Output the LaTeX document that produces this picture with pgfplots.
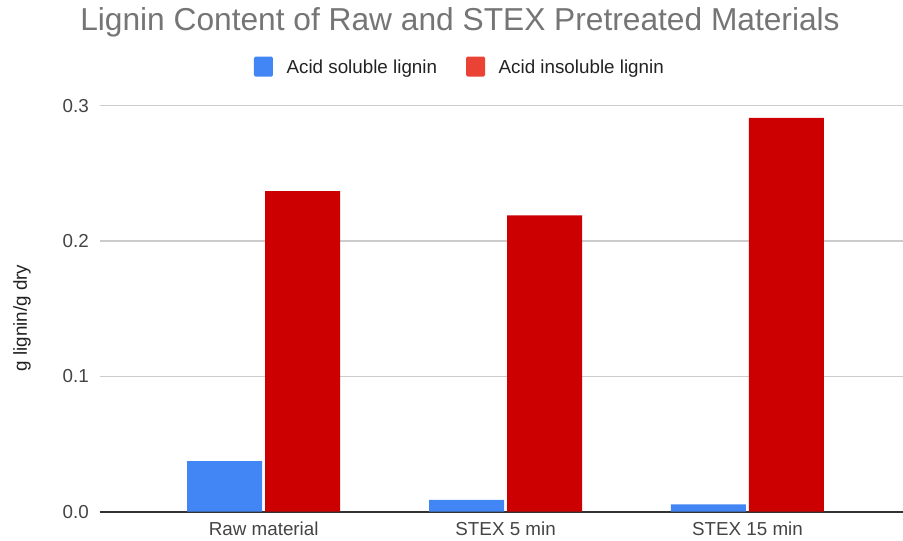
\documentclass[border=0pt]{standalone}
\usepackage{pgfplots}
\pgfplotsset{compat=1.18}
\usepackage{fontspec}
\setmainfont{Liberation Sans}

\definecolor{solblue}{HTML}{4285F4}
\definecolor{insolred}{HTML}{CC0000}
\definecolor{insolkey}{HTML}{EA4335}
\definecolor{titlegray}{HTML}{757575}
\definecolor{ticktext}{HTML}{444444}
\definecolor{labeltext}{HTML}{222222}
\definecolor{gridgray}{HTML}{CCCCCC}
\definecolor{baseline}{HTML}{333333}

\begin{document}
\begin{tikzpicture}
\useasboundingbox (0,0) rectangle (903bp,541bp);

\node[anchor=base, text=titlegray, font=\fontsize{31.7bp}{36bp}\selectfont, inner sep=0pt]
  at (460bp,510.3bp) {Lignin Content of Raw and STEX Pretreated Materials};

\begin{axis}[
  at={(99.5bp,29.3bp)}, anchor=south west,
  scale only axis,
  width=803bp, height=406bp,
  ymin=0, ymax=0.3,
  xmin=-0.679, xmax=2.641,
  ybar, bar width=75bp,
  xtick={0,1,2},
  xticklabels={Raw material, STEX 5 min, STEX 15 min},
  ytick={0,0.1,0.2,0.3},
  /pgf/number format/fixed,
  /pgf/number format/fixed zerofill,
  /pgf/number format/precision=1,
  /pgf/number format/assume math mode=true,
  major tick length=0pt,
  axis x line*=bottom,
  axis y line*=left,
  x axis line style={draw=baseline, line width=1.6bp, -},
  y axis line style={draw=none},
  ymajorgrids,
  major grid style={draw=gridgray, line width=1.2bp},
  tick label style={font=\fontsize{18.8bp}{22bp}\selectfont, text=ticktext, inner sep=0pt},
  xticklabel style={anchor=base, yshift=-24.3bp},
  yticklabel style={anchor=east, xshift=-10.5bp},
  ylabel={g lignin/g dry},
  every axis y label/.style={at={(axis description cs:-0.0965,0.477)}, rotate=90, anchor=center,
    font=\fontsize{18.8bp}{22bp}\selectfont, text=labeltext},
  legend columns=2,
  legend cell align=left,
  legend style={draw=none, fill=none, inner sep=0pt, outer sep=0pt,
    at={(axis description cs:0.1924,1.0965)}, anchor=west,
    font=\fontsize{18.8bp}{22bp}\selectfont, text=labeltext,
    nodes={inner sep=0pt},
    /tikz/every even column/.append style={column sep=29bp}},
  legend image code/.code={
    \fill[#1, draw=none, rounded corners=1.5bp] (0bp,-9.4bp) rectangle (19bp,10.6bp);
    \path (32.4bp,0bp);
  },
]
% soluble and insoluble lignin, side by side in each group
\addplot[fill=solblue, draw=none, bar shift=-39bp, forget plot]
  coordinates {(0,0.0373) (1,0.0087) (2,0.0055)};
\addplot[fill=insolred, draw=none, bar shift=39bp, forget plot]
  coordinates {(0,0.2368) (1,0.2190) (2,0.2910)};
\addlegendimage{fill=solblue}
\addlegendentry{Acid soluble lignin}
\addlegendimage{fill=insolkey}
\addlegendentry{Acid insoluble lignin}
\end{axis}
\end{tikzpicture}
\end{document}
